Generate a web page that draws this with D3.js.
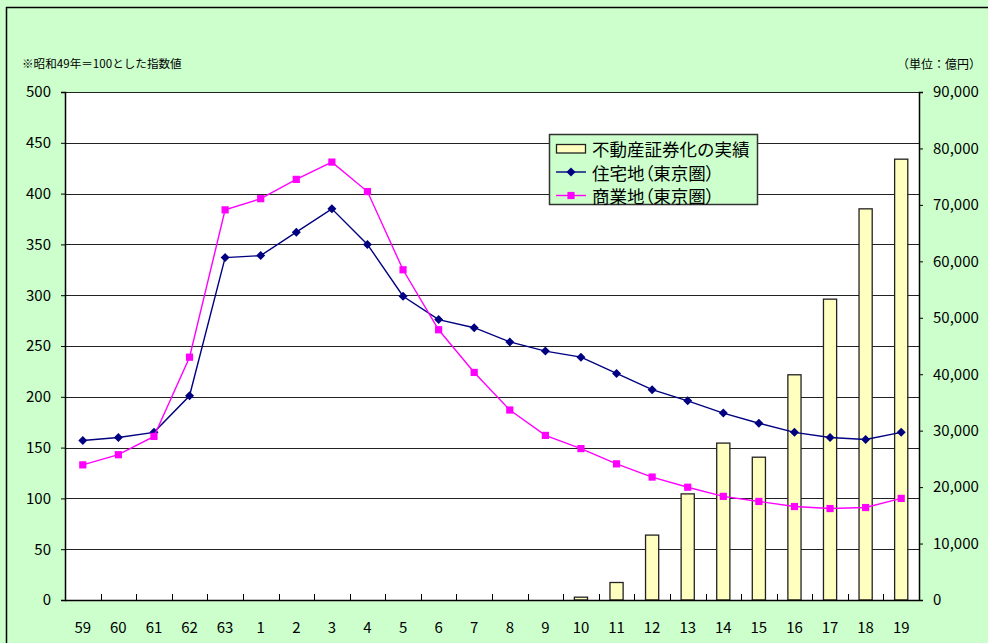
<!DOCTYPE html>
<html><head><meta charset="utf-8">
<script src="https://cdn.jsdelivr.net/npm/d3@7"></script>
<style>html,body{margin:0;padding:0;background:#CCFFCC;}svg{display:block;}</style>
</head><body>
<svg id="chart" width="988" height="643"></svg>
<script>
const years = ["59","60","61","62","63","1","2","3","4","5","6","7","8","9","10","11","12","13","14","15","16","17","18","19"];
const securitization = [null,null,null,null,null,null,null,null,null,null,null,null,null,null,500,3100,11500,18800,27800,25300,39900,53300,69300,78100];
const residential = [157,160,165,201,337,339,362,385,350,299,276,268,254,245,239,223,207,196,184,174,165,160,158,165];
const commercial = [133,143,161,239,384,395,414,431,402,325,266,224,187,162,149,134,121,111,102,97,92,90,91,100];
const leftTicks = [0,50,100,150,200,250,300,350,400,450,500];
const rightTicks = [0,10000,20000,30000,40000,50000,60000,70000,80000,90000];
const legendLabels = ["不動産証券化の実績","住宅地（東京圏）","商業地（東京圏）"];
const noteText = "※昭和49年＝100とした指数値";
const unitText = "（単位：億円）";

const svg = d3.select("#chart");
const font = "'Noto Sans CJK JP', 'Noto Sans', sans-serif";
const L = 65, R = 919, T = 92, B = 600;

// outer frame
svg.append("rect").attr("x",0).attr("y",0).attr("width",988).attr("height",643).attr("fill","#CCFFCC");
svg.append("line").attr("x1",6.5).attr("x2",6.5).attr("y1",7).attr("y2",643).attr("stroke","#000").attr("stroke-width",1.5);
svg.append("line").attr("x1",6).attr("x2",988).attr("y1",7.5).attr("y2",7.5).attr("stroke","#000").attr("stroke-width",1.5);

const x = d3.scaleBand().domain(years).range([L, R]).paddingInner(0).paddingOuter(0);
const yL = d3.scaleLinear().domain([0,500]).range([B, T]);
const yR = d3.scaleLinear().domain([0,90000]).range([B, T]);

svg.append("rect").attr("x",L).attr("y",T).attr("width",R-L).attr("height",B-T).attr("fill","#fff");

// gridlines
svg.append("g").selectAll("line").data(leftTicks.filter(d=>d>0)).join("line")
  .attr("x1",L).attr("x2",R)
  .attr("y1",d=>Math.round(yL(d))+0.5).attr("y2",d=>Math.round(yL(d))+0.5)
  .attr("stroke","#222").attr("stroke-width",1.2);

// bars
const bw = x.bandwidth()*0.37;
svg.append("g").selectAll("rect").data(years.map((c,i)=>({c,v:securitization[i]})).filter(d=>d.v!=null)).join("rect")
  .attr("x",d=>x(d.c)+x.bandwidth()/2-bw/2)
  .attr("y",d=>yR(d.v))
  .attr("width",bw)
  .attr("height",d=>B-yR(d.v))
  .attr("fill","#FFFFC0").attr("stroke","#222").attr("stroke-width",1.3);

// left axis
const axL = svg.append("g").attr("transform",`translate(${L},0)`)
  .call(d3.axisLeft(yL).tickValues(leftTicks).tickSize(4).tickPadding(10));
axL.select(".domain").attr("stroke","#000").attr("stroke-width",1.5);
axL.selectAll(".tick line").attr("stroke","#000");
axL.selectAll("text").attr("font-family",font).attr("font-size",15).attr("fill","#000");

// right axis
const axR = svg.append("g").attr("transform",`translate(${R},0)`)
  .call(d3.axisRight(yR).tickValues(rightTicks).tickSize(4).tickPadding(10).tickFormat(d3.format(",")));
axR.select(".domain").attr("stroke","#000").attr("stroke-width",1.5);
axR.selectAll(".tick line").attr("stroke","#000");
axR.selectAll("text").attr("font-family",font).attr("font-size",15).attr("fill","#000");

// bottom axis
svg.append("line").attr("x1",L).attr("x2",R).attr("y1",B+0.5).attr("y2",B+0.5).attr("stroke","#000").attr("stroke-width",1.5);
svg.append("g").selectAll("line").data(years.slice(1)).join("line")
  .attr("x1",d=>Math.round(x(d))+0.5).attr("x2",d=>Math.round(x(d))+0.5)
  .attr("y1",B).attr("y2",B-6).attr("stroke","#000");
svg.append("g").selectAll("text").data(years).join("text")
  .attr("x",d=>x(d)+x.bandwidth()/2).attr("y",626)
  .attr("text-anchor","middle").attr("dominant-baseline","central")
  .attr("font-family",font).attr("font-size",15).attr("fill","#000").text(d=>d);

// lines
const cx = d=>x(d.c)+x.bandwidth()/2;
function drawLine(vals, color, shape){
  const data = years.map((c,i)=>({c,v:vals[i]}));
  svg.append("path").datum(data)
    .attr("d", d3.line().x(cx).y(d=>yL(d.v)))
    .attr("fill","none").attr("stroke",color).attr("stroke-width",1.4);
  const g = svg.append("g");
  if(shape==="diamond"){
    g.selectAll("path").data(data).join("path")
      .attr("transform",d=>`translate(${cx(d)},${yL(d.v)})`)
      .attr("d","M0,-4.5L4.5,0L0,4.5L-4.5,0Z").attr("fill",color);
  } else {
    g.selectAll("rect").data(data).join("rect")
      .attr("x",d=>cx(d)-3.6).attr("y",d=>yL(d.v)-3.6)
      .attr("width",7.2).attr("height",7.2).attr("fill",color);
  }
}
drawLine(residential,"#000080","diamond");
drawLine(commercial,"#FF00FF","square");

// notes
svg.append("text").attr("x",22).attr("y",63).attr("dominant-baseline","central")
  .attr("font-family",font).attr("font-size",11.6).attr("fill","#000").text(noteText);
svg.append("text").attr("x",981).attr("y",63).attr("text-anchor","end").attr("dominant-baseline","central")
  .attr("font-family",font).attr("font-size",12).attr("fill","#000").text(unitText);

// legend
const lg = svg.append("g");
lg.append("rect").attr("x",549.5).attr("y",134.5).attr("width",208).attr("height",70)
  .attr("fill","#CCFFCC").attr("stroke","#333").attr("stroke-width",1.5);
const rowsY = [148.5,172,195.5];
lg.append("rect").attr("x",556.5).attr("y",rowsY[0]-4).attr("width",29).attr("height",8.5)
  .attr("fill","#FFFFC0").attr("stroke","#222").attr("stroke-width",1.3);
lg.append("line").attr("x1",556).attr("x2",586).attr("y1",rowsY[1]).attr("y2",rowsY[1]).attr("stroke","#000080").attr("stroke-width",1.4);
lg.append("path").attr("transform",`translate(571,${rowsY[1]})`).attr("d","M0,-4.5L4.5,0L0,4.5L-4.5,0Z").attr("fill","#000080");
lg.append("line").attr("x1",556).attr("x2",586).attr("y1",rowsY[2]).attr("y2",rowsY[2]).attr("stroke","#FF00FF").attr("stroke-width",1.4);
lg.append("rect").attr("x",571-3.6).attr("y",rowsY[2]-3.6).attr("width",7.2).attr("height",7.2).attr("fill","#FF00FF");
lg.selectAll("text.l").data(legendLabels).join("text").attr("class","l")
  .attr("x",592).attr("y",(d,i)=>rowsY[i]).attr("dominant-baseline","central")
  .style("font-feature-settings",(d,i)=>i>0?"'palt'":"normal")
  .attr("font-family",font).attr("font-size",17.5).attr("fill","#000").text(d=>d);
</script>
</body></html>
